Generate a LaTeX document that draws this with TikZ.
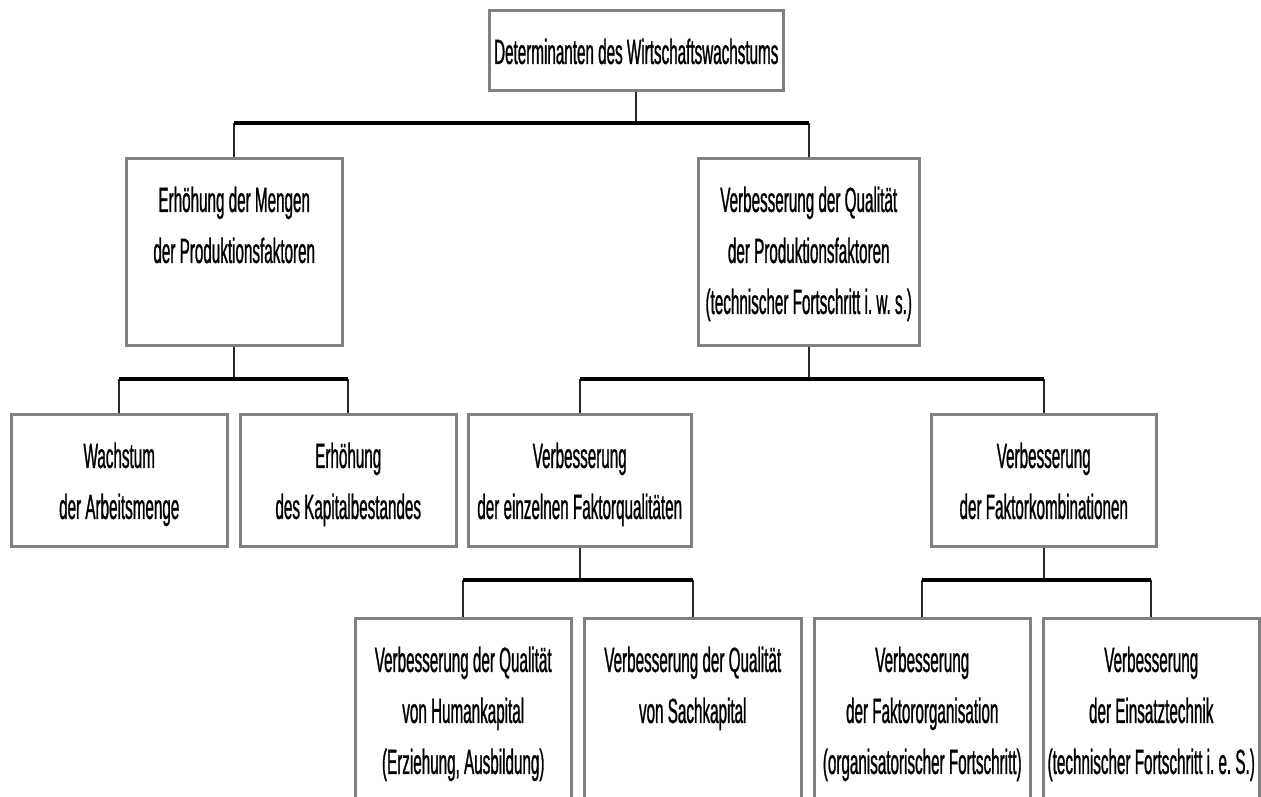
\documentclass[tikz,border=0pt]{standalone}
\usepackage{fontspec}
\setmainfont{Liberation Sans}[FakeStretch=0.435,FakeBold=0.8]
\usetikzlibrary{positioning}

\definecolor{boxgray}{RGB}{128,128,128}
\definecolor{dropgray}{RGB}{40,40,40}

% box text: width, height, lines (top aligned)
\newcommand{\boxtext}[3]{\parbox[t][#2pt][t]{#1pt}{\centering\vspace*{18pt}\strut #3}}

\begin{document}
\begin{tikzpicture}[x=1pt,y=-1pt,
    box/.style={draw=boxgray,line width=2.5pt,fill=white,inner sep=0pt,anchor=north west,
      font=\fontsize{35}{51}\selectfont},
    drop/.style={draw=dropgray,line width=2pt},
    bar/.style={draw=black,line width=4.5pt}]
    \useasboundingbox (0,0) rectangle (1261,796);
    \clip (0,0) rectangle (1261,796);

    % top
    \node[box] (det) at (488,9) {\boxtext{294}{80}{Determinanten des Wirtschaftswachstums}};

    % level 2
    \node[box] (mengen) at (125,157) {\boxtext{216}{187}{Erhöhung der Mengen\\der Produktionsfaktoren}};
    \node[box] (quali) at (697,157) {\boxtext{221}{187}{Verbesserung der Qualität\\der Produktionsfaktoren\\(technischer Fortschritt i.\ w.\ s.)}};

    % level 3
    \node[box] (arbeit) at (10,413) {\boxtext{216}{132}{Wachstum\\der Arbeitsmenge}};
    \node[box] (kapital) at (239,413) {\boxtext{216}{132}{Erhöhung\\des Kapitalbestandes}};
    \node[box] (einzeln) at (467,413) {\boxtext{223}{132}{Verbesserung\\der einzelnen Faktorqualitäten}};
    \node[box] (kombi) at (930,413) {\boxtext{225}{132}{Verbesserung\\der Faktorkombinationen}};

    % level 4
    \node[box] (human) at (354,617) {\boxtext{216}{220}{Verbesserung der Qualität\\von Humankapital\\(Erziehung, Ausbildung)}};
    \node[box] (sach) at (583,617) {\boxtext{217}{220}{Verbesserung der Qualität\\von Sachkapital}};
    \node[box] (orga) at (813,617) {\boxtext{216}{220}{Verbesserung\\der Faktororganisation\\(organisatorischer Fortschritt)}};
    \node[box] (technik) at (1042,617) {\boxtext{216}{220}{Verbesserung\\der Einsatztechnik\\(technischer Fortschritt i.\ e.\ S.)}};

    % connectors
    \coordinate (b1) at (0,123);
    \coordinate (b2) at (0,379);
    \coordinate (b3) at (0,580);

    \draw[drop] (det.south) -- (det.south |- b1);
    \draw[drop] (mengen.north |- b1) -- (mengen.north);
    \draw[drop] (quali.north |- b1) -- (quali.north);
    \draw[bar] (mengen.north |- b1) -- (quali.north |- b1);

    \draw[drop] (mengen.south) -- (mengen.south |- b2);
    \draw[drop] (arbeit.north |- b2) -- (arbeit.north);
    \draw[drop] (kapital.north |- b2) -- (kapital.north);
    \draw[bar] (arbeit.north |- b2) -- (kapital.north |- b2);

    \draw[drop] (quali.south) -- (quali.south |- b2);
    \draw[drop] (einzeln.north |- b2) -- (einzeln.north);
    \draw[drop] (kombi.north |- b2) -- (kombi.north);
    \draw[bar] (einzeln.north |- b2) -- (kombi.north |- b2);

    \draw[drop] (einzeln.south) -- (einzeln.south |- b3);
    \draw[drop] (human.north |- b3) -- (human.north);
    \draw[drop] (sach.north |- b3) -- (sach.north);
    \draw[bar] (human.north |- b3) -- (sach.north |- b3);

    \draw[drop] (kombi.south) -- (kombi.south |- b3);
    \draw[drop] (orga.north |- b3) -- (orga.north);
    \draw[drop] (technik.north |- b3) -- (technik.north);
    \draw[bar] (orga.north |- b3) -- (technik.north |- b3);
\end{tikzpicture}
\end{document}
